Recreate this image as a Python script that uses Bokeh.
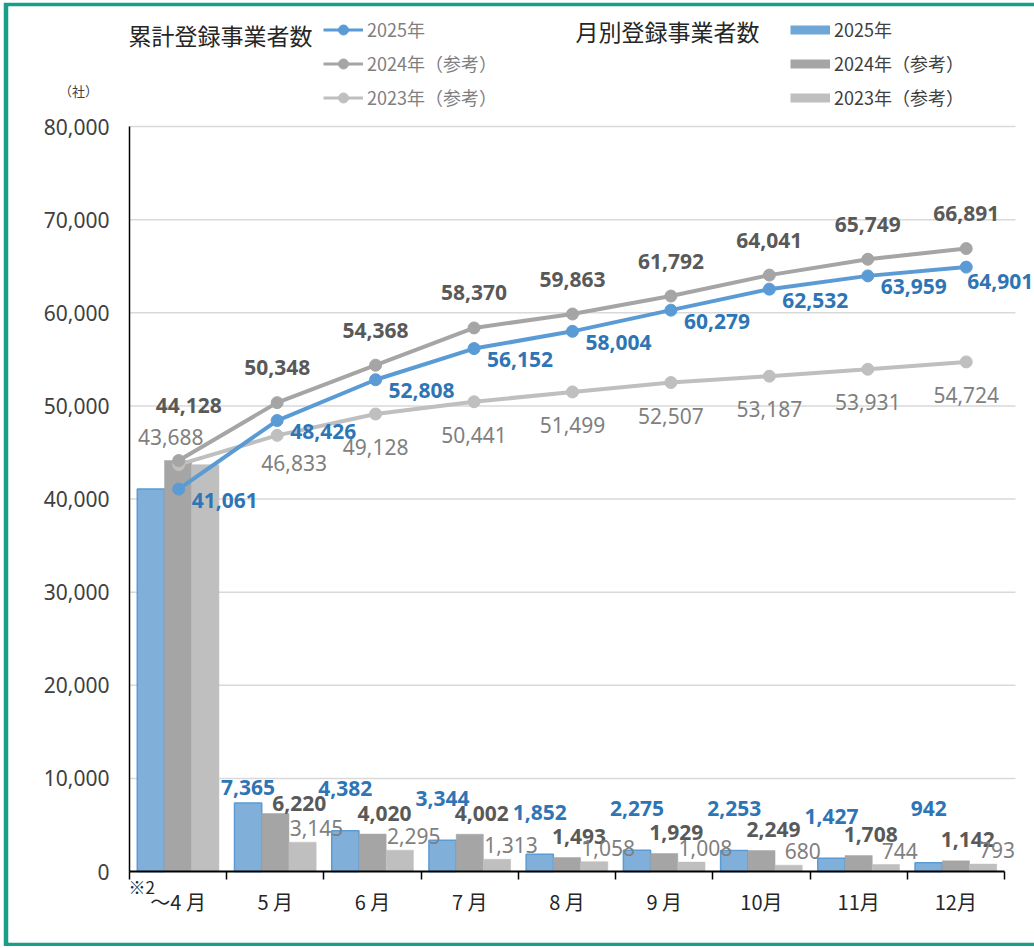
from bokeh.plotting import figure
from bokeh.models import (Range1d, FixedTicker, NumeralTickFormatter, Label, LabelSet,
                          Legend, LegendItem, ColumnDataSource)
from bokeh.embed import file_html
from bokeh.resources import INLINE
from bokeh.core.properties import value

# ---------------- data ----------------
months = ["～4 月", "5 月", "6 月", "7 月", "8 月", "9 月", "10月", "11月", "12月"]
monthly_2025 = [41061, 7365, 4382, 3344, 1852, 2275, 2253, 1427, 942]
monthly_2024 = [44128, 6220, 4020, 4002, 1493, 1929, 2249, 1708, 1142]
monthly_2023 = [43688, 3145, 2295, 1313, 1058, 1008, 680, 744, 793]
cum_2025 = [41061, 48426, 52808, 56152, 58004, 60279, 62532, 63959, 64901]
cum_2024 = [44128, 50348, 54368, 58370, 59863, 61792, 64041, 65749, 66891]
cum_2023 = [43688, 46833, 49128, 50441, 51499, 52507, 53187, 53931, 54724]
y_ticks = [0, 10000, 20000, 30000, 40000, 50000, 60000, 70000, 80000]
series_names = ["2025年", "2024年（参考）", "2023年（参考）"]
title_cum = "累計登録事業者数"
title_month = "月別登録事業者数"
unit_label = "（社）"
note_label = "※2"

# ---------------- styles / layout ----------------
BLUE_LINE = "#5B9BD5"
BLUE_FILL = "#80B0DA"
GRAY = "#A5A5A5"
LIGHT = "#BFBFBF"
LBL_BLUE = "#2E75B6"
LBL_GRAY = "#595959"
LBL_LIGHT = "#7F7F7F"
FRAME_GREEN = "#1A9E88"
NUM_FONT = value("Noto Sans")

W, H = 1031, 944
BL, BT, BB = 5, 4, 4        # green border widths (canvas px)
AX_X, AX_Y = 126, 869       # canvas px of the axes origin
BAR_CAT_PX = 97.22          # px per category for bars / category axis
LINE_CAT_PX = 98.44         # px per category for the cumulative lines
Y_PX = 0.0093125            # px per unit on y

fx0, fx1 = BL, W            # frame extent (canvas)
fy0, fy1 = BT, H - BB

n = len(months)
idx = list(range(n))
centers = [i + 0.5 for i in idx]
BW = 0.28


def nudges(default, overrides=None):
    arr = [default] * n
    for k, v in (overrides or {}).items():
        arr[k] = v
    return arr


x_range = Range1d(-(AX_X - fx0) / BAR_CAT_PX, (fx1 - AX_X) / BAR_CAT_PX)
y_range = Range1d(-(fy1 - AX_Y) / Y_PX, (AX_Y - fy0) / Y_PX)

p = figure(width=W, height=H, x_range=x_range, y_range=y_range,
           output_backend="svg", toolbar_location=None,
           min_border_left=BL, min_border_right=0, min_border_top=BT, min_border_bottom=BB)
p.styles = {"margin-left": "3px", "margin-top": "2px"}
p.extra_x_ranges = {"lx": Range1d(-(AX_X - fx0) / LINE_CAT_PX, (fx1 - AX_X) / LINE_CAT_PX)}
p.outline_line_color = None
p.background_fill_color = "white"
p.border_fill_color = FRAME_GREEN
p.xgrid.visible = False
p.ygrid.visible = False

# grid lines (drawn from the y tick values, spanning the category area)
p.segment(x0=[0] * (len(y_ticks) - 1), x1=[n] * (len(y_ticks) - 1), y0=y_ticks[1:], y1=y_ticks[1:],
          line_color="#D9D9D9", line_width=1.5, x_range_name="lx")

# axes
xa = p.xaxis[0]
xa.fixed_location = 0
xa.ticker = FixedTicker(ticks=centers, minor_ticks=[float(i) for i in range(n + 1)])
xa.major_label_overrides = {c: m for c, m in zip(centers, months)}
xa.bounds = (0, n)
xa.axis_line_color = "black"
xa.axis_line_width = 2
xa.major_tick_out = 0
xa.major_tick_in = 0
xa.minor_tick_out = 8
xa.minor_tick_in = 0
xa.minor_tick_line_color = "black"
xa.minor_tick_line_width = 1.5
xa.major_label_text_font = "Noto Sans CJK JP"
xa.major_label_text_font_size = "20px"
xa.major_label_text_color = "#262626"
xa.major_label_standoff = 7

ya = p.yaxis[0]
ya.fixed_location = 0
ya.ticker = FixedTicker(ticks=y_ticks)
ya.formatter = NumeralTickFormatter(format="0,0")
ya.bounds = (0, y_ticks[-1])
ya.axis_line_color = "black"
ya.axis_line_width = 1.5
ya.major_tick_out = 0
ya.major_tick_in = 0
ya.minor_tick_out = 0
ya.minor_tick_in = 0
ya.major_label_text_font = "Noto Sans"
ya.major_label_text_font_size = "21px"
ya.major_label_text_color = "#404040"
ya.major_label_standoff = 20

# bars
bar_specs = [
    (monthly_2025, -BW, BLUE_FILL, BLUE_LINE, LBL_BLUE, "bold", nudges(0), nudges(42, {1: 15, 8: 54})),
    (monthly_2024, 0.0, GRAY, GRAY, LBL_GRAY, "bold", nudges(12, {1: 24}), nudges(21, {1: 10})),
    (monthly_2023, BW, LIGHT, LIGHT, LBL_LIGHT, "normal", nudges(14), nudges(14)),
]
for vals, dodge, fill, line, lcol, weight, dxs, dys in bar_specs:
    src = ColumnDataSource(dict(x=[c + dodge for c in centers], top=vals))
    p.vbar(x="x", top="top", width=BW, source=src, fill_color=fill, line_color=line,
           line_width=1.5 if line != fill else 0.5)
    lsrc = ColumnDataSource(dict(x=[c + dodge for c in centers[1:]], y=vals[1:],
                                 t=[f"{v:,}" for v in vals[1:]], dx=dxs[1:], dy=dys[1:]))
    p.add_layout(LabelSet(x="x", y="y", text="t", source=lsrc, x_offset="dx", y_offset="dy",
                          text_align="center", text_baseline="middle", text_font=NUM_FONT,
                          text_font_size="21px", text_font_style=weight, text_color=lcol))

# cumulative lines
line_specs = [
    (cum_2025, BLUE_LINE, LBL_BLUE, "bold", nudges(46, {8: 34}), nudges(-11, {8: -14})),
    (cum_2024, GRAY, LBL_GRAY, "bold", nudges(0, {0: 10}), nudges(35, {0: 55})),
    (cum_2023, LIGHT, LBL_LIGHT, "normal", nudges(0, {0: -8, 1: 17}), nudges(-33, {0: 28, 1: -28})),
]
for vals, col, lcol, weight, dxs, dys in reversed(line_specs):
    src = ColumnDataSource(dict(x=centers, y=vals))
    p.line(x="x", y="y", source=src, line_color=col, line_width=4, x_range_name="lx")
    p.scatter(x="x", y="y", source=src, size=12, fill_color=col, line_color=col, x_range_name="lx")
for vals, col, lcol, weight, dxs, dys in line_specs:
    lsrc = ColumnDataSource(dict(x=centers, y=vals, t=[f"{v:,}" for v in vals], dx=dxs, dy=dys))
    p.add_layout(LabelSet(x="x", y="y", text="t", source=lsrc, x_offset="dx", y_offset="dy",
                          x_range_name="lx", text_align="center", text_baseline="middle",
                          text_font=NUM_FONT, text_font_size="21px", text_font_style=weight,
                          text_color=lcol))

# legend helper renderers (no visible data, only their glyph style is shown in legends)
nan = float("nan")
line_items = []
for name, (vals, col, *_rest) in zip(series_names, line_specs):
    dl = p.line(x=[nan, nan], y=[nan, nan], line_color=col, line_width=3)
    ds = p.scatter(x=[nan], y=[nan], size=6, fill_color=col, line_color=col)
    line_items.append(LegendItem(label=value(name), renderers=[dl, ds]))
bar_items = []
for name, (vals, dodge, fill, line, *_rest) in zip(series_names, bar_specs):
    db = p.line(x=[nan, nan], y=[nan, nan], line_color=fill if fill != BLUE_FILL else "#6FA6D8",
                line_width=9)
    bar_items.append(LegendItem(label=value(name), renderers=[db]))

common = dict(orientation="vertical", glyph_width=40, glyph_height=25, label_height=25,
              spacing=8, padding=0, margin=0, border_line_color=None, background_fill_alpha=0,
              label_standoff=4, label_text_font="Noto Sans CJK JP", label_text_font_size="18px")
leg1 = Legend(items=line_items, location=(315, 832), label_text_color="#7F7F7F", **common)
leg2 = Legend(items=bar_items, location=(782, 832), label_text_color="#404040", **common)
p.add_layout(leg1)
p.add_layout(leg2)

# titles and notes (screen units relative to the plot frame's lower-left corner)
def note(x, y, text, size, align="left", color="#262626"):
    p.add_layout(Label(x=x, y=y, x_units="screen", y_units="screen", text=text,
                       text_font="Noto Sans CJK JP", text_font_size=size, text_color=color,
                       text_baseline="middle", text_align=align))

note(120, 908, title_cum, "23px")
note(567, 912, title_month, "23px")
note(70, 852, unit_label, "13px", align="center", color="#404040")
note(120, 56, note_label, "17px")

open("out.html", "w").write(file_html(p, INLINE))
